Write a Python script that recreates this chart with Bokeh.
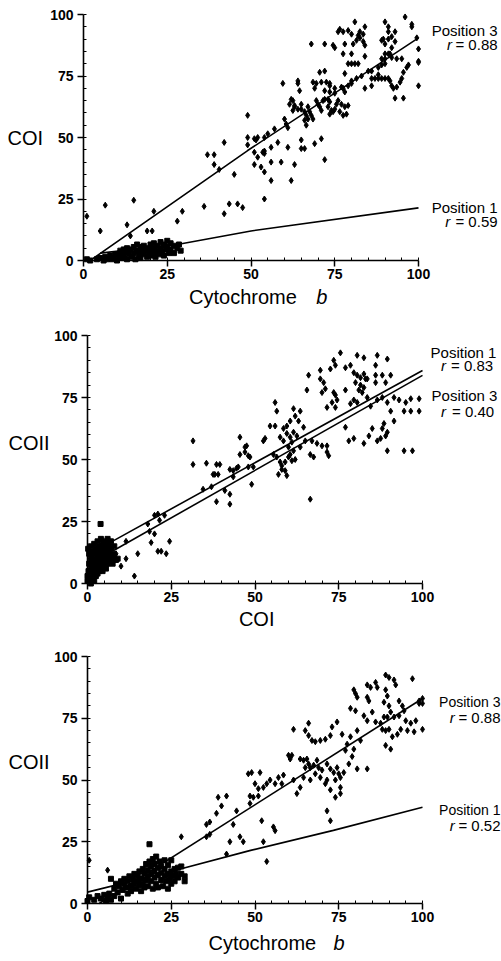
from bokeh.plotting import figure
from bokeh.layouts import column
from bokeh.models import Label, Range1d, FixedTicker, LinearAxis
from bokeh.embed import file_html
from bokeh.resources import INLINE

# ---------------- data ----------------
tick_values = [0, 25, 50, 75, 100]
minor_values = [v for v in range(0, 101, 5)]

# Panel A: Cytochrome b (x) vs COI (y)
a_pos3 = [(1,18),(6.5,22.5),(5,12),(13,14.5),(14,10),(15,24.5),(19,12),(20.5,12),(21,20),(28,16),(29.5,20),(36,22),(37,43),(39,43),(39,39),(40.5,37),(42,19),(42,48),(43.5,23),(45,35),(46,23),(47.5,21.5),(49,59),(49,50),(49,47),
(51,49.5),(52,50),(51.5,49),(53.5,44),(54,43.5),(51,44),(52,42),(54,50),(55,51.5),(57,53.5),(58,48),(56,46),(54,44.5),(59,40),(56,40),(51,39),(53,38),(54,36),(63,39),(72,41),(56,32.5),(62,32.5),(54,25),(61,46),(65,49),(65,45.5),(66,45.5),(69,47.5),(71,49.5),
(60,57.5),(60.5,55.5),(61,54),(62,65.5),(62.5,65),(61.5,63.5),(63,63),(65,63.5),(64,61.5),(63,62.5),(62.5,61),(65,61.5),(66,60.5),(67,62.5),(67.5,60.5),(66.5,59),(68,59),(68.5,57.5),(67,57.5),(66,57),(66.5,55),
(69.5,65),(70,63.5),(70.5,62.5),(71,61),(71.5,65),(72,65.5),(73,65.5),(73.5,64.5),(73,62.5),(74,61),(73.5,59.5),(74.5,60.5),(75,61.5),(75.5,63.5),(76,65),(77,63.5),(78,62.5),(79,63),(76.5,60.5),(77.5,59),(78.5,59.5),(73.5,68.5),(75,68),(72,69),
(59.5,72),(64,73),(64.5,69),(64,72),(68.5,72.5),(69,70),(69.5,72),(71,72.5),(70.5,76.5),(72,77),(72.5,72.5),(73.5,72),(73.5,71),(75,70),(77,70.5),(78,68.5),
(78,76),(80,72),(77.5,70),(79,71),(84,70),(86,71),(80,73),(85,77),(86,77),(83,75),(81.5,74),
(86,74),(87,74),(88,74),(88,75.5),(89,74),(90,74),(91,74),(91.5,73),(92,71),(92.5,70),(93.5,70.5),(95.5,76.5),(96.5,78.5),(97,79.5),(95,74),(94.5,72.5),(100,71),(93,66),(95.5,66),(88,78.5),(89,79.5),(90,80),
(68,88),(72,88),(74.5,87.5),(75,86.5),(78,88),(77.5,84),(80,84),(80,80),(79,80),(81,80),(82,80),(84,83),(84,87.5),(90,84),(91,84),(91.5,84),(89,82),(90,82),(92,82.5),(93.5,82),(95,82),(100,86),(100,81),(100,80.5),(99.5,90.5),
(96,99),(98,96),(98,95),(90,97),(81,97),(84,95),(91,95),(93,93),(82.5,93),(83.5,92),(82,91.5),(82.5,90.5),(79,93.5),(80,92),(77.5,93),(76.5,94),(76,93),(81.5,89.5),(83.5,89),(80.5,88),(91,93),(92,91),(93,89),(92,86.5),(90,88),(89,89.5),(89.5,90),(91,90)]
a_pos1 = [(1,0.5),(2,0),(4,0.5),(5,1),(6,0),(6.5,1.5),(7,0.5),(8,2),(8.5,0.5),(9,1),(9.5,2.5),(10,0),(10.5,1.5),(11,3),(11,4),(11.5,1),(12,2),(12,4.5),(12.5,3.5),(13,0.5),(13,5),(13.5,2.5),(14,4.5),(14.5,1.5),(15,3),(15,5.5),(15.5,0.5),(16,4),(16,6.5),(16.5,2),(17,5.5),(17,1),(17.5,3.5),(18,6),(18,2.5),(18.5,4.5),(19,1.5),(19.5,5),(19.5,3),(20,6.5),(20,2),(20.5,4),(21,7),(21,5),(21.5,1.5),(21.5,3),(22,6),(22,4),(22.5,2.5),(23,7.5),(23,5),(23.5,3.5),(24,6.5),(24,2),(24.5,4.5),(25,8),(25,5.5),(25.5,3),(26,7),(26,4.5),(27,6),(27,3),(28,5),(29,4),(28.5,6.5)]
a_fit3_x = [2, 49, 100]
a_fit3_y = [0, 44.7, 90.5]
a_fit1_x = [5, 28, 50, 100]
a_fit1_y = [3, 6.5, 12, 21.4]

# Panel B: COI (x) vs COII (y)
b_pos3 = [(31.5,57.5),(31.5,48),(35.5,48.5),(34.5,38),(37,39),(38.5,48),(38,44),(37.5,44),(39,44),(39.5,48),(38.5,33),(41,37.5),(42.5,36),(42.5,32),(43.5,43),(44.5,46.5),(45,47),(45.5,52),(47,53),(47.5,55.5),(45.5,59),(47,55),(43.5,45.5),(42.5,46),(48,51.5),(48,47),
(20,27.5),(21.5,25.5),(23,27.5),(21,28),(18.5,21),(18,24),(20,20),(19,16.5),(22,13),(23.5,12),(24.5,17),(15,12),(11.5,17),(11.5,10),(10,7),(14,3),(8.5,12),(21,13),
(75.5,93),(80.5,92),(82.5,91),(86.5,92),(89.5,90.5),(73.5,90),(74,88),(77,87),(78.5,88),(69.5,86),(72.5,86.5),(66,84),(69.5,82.5),(70.5,81),
(79.5,85),(80.5,84),(81.5,83),(82.5,84.5),(83.5,82.5),(80,81),(81.5,80),(82.5,79),(81,78),(82,77),(83,82.5),(86,88),(86,84),(86,81),(88,84),(89,81),(90.5,84),
(65.5,78),(70,77),(71,78.5),(73.5,77),(74,76),(77,78),(74.5,74),(73,73),(71.5,71),(74,71),(78.5,72.5),(79.5,74),(80.5,73),
(83.5,75),(84.5,71.5),(86.5,74),(88,75),(89.5,73),(91.5,75),(93,74),(95,73),(96.5,74.5),(99,74.5),(94.5,69.5),(96.5,69.5),(99,69.5),
(90.5,69.5),(91.5,65.5),(88.5,64.5),(88,62.5),(89,59.5),(87.5,58.5),(86.5,57.5),(89.5,61),(85,62.5),(84,59.5),(89.5,53.5),(94.5,53.5),(97,53.5),
(77,63),(79.5,58.5),(78,57.5),(82.5,56.5),
(61.5,70.5),(62,67.5),(63.5,69.5),(63,65.5),(60.5,65.5),(58.5,62.5),(59.5,63.5),(64.5,63),
(56,73),(56.5,69.5),(54.5,63.5),(56,63.5),(53,58.5),(52.5,57.5),(57.5,59),(58.5,57.5),
(59.5,60.5),(60.5,59),(61.5,61),(62.5,59.5),(61,57),(60,55),(61.5,53.5),(60.5,52),(60,51),(61,49.5),(62,50),(59,49),(58,47.5),
(55.5,52),(56.5,51),(57.5,49),(58,46),(57,44),(59,45.5),(59.5,43.5),
(63.5,55),(65,57.5),(67,57.5),(66.5,52),(67.5,51),(68.5,56.5),(70,55.5),(71.5,55.5),(72,51.5),(71.5,53),
(66.5,34),(49.5,47),(48.5,51),(49,40)]
b_pos1 = [(0,1),(0,3),(0.3,5),(0.5,8),(0.5,12),(0.2,14),(1,0),(1,2),(1,6),(1,9),(1,11),(1,15),(1.5,4),(1.5,7),(1.5,13),(2,1),(2,5),(2,8),(2,10),(2,12),(2,16),(2.5,3),(2.5,6),(2.5,9),(2.5,14),(3,4),(3,7),(3,11),(3,13),(3,17),(3.5,5),(3.5,9),(3.5,12),(3.5,15),(4,6),(4,8),(4,10),(4,14),(4,18),(3.9,24),(4.5,5),(4.5,11),(4.5,13),(4.5,16),(5,7),(5,9),(5,12),(5,15),(5,17),(5.5,6),(5.5,10),(5.5,14),(6,8),(6,11),(6,13),(6,16),(6,18),(6.5,9),(6.5,12),(6.5,15),(7,10),(7,14),(7,17),(7.5,8),(7.5,12),(8,11),(8,15),(8.5,9.5),(9,10)]
b_fit1_x = [7.8, 100]
b_fit1_y = [17.3, 85.9]
b_fit3_x = [7.8, 100]
b_fit3_y = [13.3, 83.9]

# Panel C: Cytochrome b (x) vs COII (y)
c_pos3 = [(28,27),(35.5,32),(36.5,33),(38.5,36.5),(40,39.5),(39,43),(36.5,28),(35.5,27),(41.5,43.5),(43.5,32),(42.5,25),(45.5,27),(46.5,25),(41.5,20),(44.5,37.5),(48,52.5),(48.5,43.5),(0.5,17.5),(6,13.5),
(89,92.5),(90,91.5),(91.5,90.5),(92,88.5),(97,91),(86,89.5),(86.5,87.5),(83.5,88.5),(84.5,87.5),(79.5,86.5),(80,85),(80.5,83.5),(83.5,83.5),(84,82),(89,86.5),(89.5,84),(88.5,81.5),(90,80),(93,82),(94,80),(90.5,77.5),(89.5,75.5),(91.5,75.5),(93,76),(94.5,78),(95,74),(96.5,73),(98,74),(99,82),(99,81),(100,83),(100,81),(100,70.5),
(78.5,79),(80,78),(82.5,76),(83.5,74),(85,77.5),(86,73.5),(87.5,73),(88.5,75.5),(88,70.5),(89,70),(90,70.5),(91,67.5),(92.5,68.5),(93.5,70.5),(95.5,70),(97.5,69.5),(89,64),(90.5,62.5),
(61.5,70.5),(65,70),(66,73),(73,71.5),(74.5,73.5),(72.5,68),(71,66.5),(69.5,66),(68,65.5),(66,68),(67,66),
(76,68.5),(78.5,67.5),(77.5,64.5),(77,62),(79.5,62.5),(81.5,66),(80.5,70),
(60,60),(60.5,58.5),(61,60),(63.5,58.5),(64.5,58),(65.5,58.5),(66,56.5),(66.5,55),(65,55),(67.5,56),(68.5,58),(69,55),(70,54),(69.5,51),(68,52.5),(71.5,56.5),(72.5,54.5),(73.5,53),(74.5,55),(75,52.5),(75.5,51),(74,50),(71.5,50),(71,48.5),(72.5,46),(75.5,47),(75.5,44.5),(74,43),(76.5,53),(78,56.5),(79,59.5),(80.5,54.5),(83.5,54.5),(66.5,50),(64.5,51),(61.5,50),(63.5,47),(62.5,44.5),
(58.5,52),(57,51),(54.5,50),(52.5,47),(51,46.5),(49.5,43),(48.5,40.5),(50,48.5),(53.5,48.5),(56,48.5),(58,48.5),(51.5,53),(49,53),(51,43.5),
(71.5,37.5),(72.5,33.5),(52,33.5),(55.5,31),(56,29.5),(52.5,25),(53.5,17)]
c_pos1 = [(0,1),(0.5,2.5),(2,1.5),(3,3),(4,2),(5,3.5),(5.5,1),(6,2.5),(6.5,4),(7,10),(7,1.5),(8,3),(8,6),(8.5,8),(9,4.5),(9.5,7),(10,2),(10,9),(10.5,5.5),(11,8),(11,10),(11.5,6.5),(12,4),(12,9),(12.5,11),(13,7),(13,5),(13.5,10),(14,8),(14,12),(14.5,6),(15,9),(15,11),(15.5,7.5),(15.5,13),(16,5),(16,10),(16.5,8),(16.5,14),(17,12),(17,6.5),(17.5,9.5),(17.5,16),(18,11),(18,7),(18,13.5),(18.5,24),(18.5,17),(19,9),(19,12),(19,15),(19.5,6),(19.5,18),(20,10.5),(20,13),(20,16),(20.5,8),(20.5,19),(21,11.5),(21,14.5),(21,6.5),(21.5,17),(22,9.5),(22,12.5),(22,15),(22.5,7),(23,11),(23,14),(23,17.5),(23.5,9),(24,12),(24,15.5),(24,6),(24.5,10),(25,13),(25,8),(25,17.5),(25.5,11),(26,14),(26,9),(26.5,12),(27,10.5),(27,14.5),(28,12),(28,15),(29,11),(29,9)]
c_fit3_x = [3.5, 100]
c_fit3_y = [0, 83]
c_fit1_x = [0, 26, 48.7, 73.4, 100]
c_fit1_y = [4.6, 13.4, 21.5, 29.6, 39]

FONT = "Liberation Sans"


def make_panel(pos3, pos1, fits, canvas, frame_px, texts):
    W, H = canvas
    left, right, top, bottom = frame_px  # pixel positions of x=0, x=100, y=100, y=0
    sx = (right - left) / 100.0
    sy = (bottom - top) / 100.0
    xr = Range1d(-left / sx, (W - left) / sx)
    yr = Range1d(-(H - bottom) / sy, (bottom) / sy)
    p = figure(width=W, height=H, output_backend="svg", toolbar_location=None,
               x_range=xr, y_range=yr, min_border=0,
               x_axis_location=None, y_axis_location=None)
    p.outline_line_color = None
    p.xgrid.visible = False
    p.ygrid.visible = False
    xa = LinearAxis(fixed_location=0, bounds=(0, 100))
    ya = LinearAxis(fixed_location=0, bounds=(0, 100))
    for ax in (xa, ya):
        ax.ticker = FixedTicker(ticks=tick_values, minor_ticks=minor_values)
        ax.axis_line_width = 1.6
        ax.axis_line_color = "black"
        ax.major_tick_in = 0
        ax.major_tick_out = 6
        ax.major_tick_line_width = 1.5
        ax.minor_tick_in = 3
        ax.minor_tick_out = 0
        ax.minor_tick_line_width = 1
        ax.major_label_text_font = FONT
        ax.major_label_text_font_style = "bold"
        ax.major_label_text_font_size = "14px"
        ax.major_label_text_color = "black"
    xa.major_label_standoff = 2
    ya.major_label_standoff = 4
    p.add_layout(xa, "below")
    p.add_layout(ya, "left")

    for fx, fy in fits:
        p.line(fx, fy, line_color="black", line_width=1.6)
    x3 = [a for a, b in pos3]
    y3 = [b for a, b in pos3]
    x1 = [a for a, b in pos1]
    y1 = [b for a, b in pos1]
    p.scatter(x1, y1, marker="square", size=5, color="black")
    p.scatter(x3, y3, marker="diamond", size=6, color="black")

    for (txt, x, y, align, italic, size) in texts:
        p.add_layout(Label(x=x, y=y, text=txt, text_align=align, text_baseline="middle",
                           text_font=FONT, text_font_size=size,
                           text_font_style="italic" if italic else "normal",
                           text_color="black"))
    return p


pA = make_panel(a_pos3, a_pos1, [(a_fit3_x, a_fit3_y), (a_fit1_x, a_fit1_y)],
                (501, 318), (83, 418, 14, 260),
                [("Cytochrome", 31.5, -15, "left", False, "20px"),
                 ("b", 69.5, -15, "left", True, "20px"),
                 ("COI", -22.7, 50, "left", False, "20px"),
                 ("Position 3", 123.6, 93.5, "right", False, "15px"),
                 ("= 0.88", 123.6, 87.8, "right", False, "15px"),
                 ("r", 110.0, 87.8, "right", True, "15px"),
                 ("Position 1", 123.6, 21.5, "right", False, "15px"),
                 ("= 0.59", 123.6, 15.9, "right", False, "15px"),
                 ("r", 109.5, 15.9, "right", True, "15px")])

pB = make_panel(b_pos3, b_pos1, [(b_fit1_x, b_fit1_y), (b_fit3_x, b_fit3_y)],
                (501, 322), (87, 422, 17, 265),
                [("COI", 50.5, -14.5, "center", False, "20px"),
                 ("COII", -23.6, 56.5, "left", False, "20px"),
                 ("Position 1", 102.4, 93.1, "left", False, "15px"),
                 ("= 0.83", 121.1, 87.9, "right", False, "15px"),
                 ("r", 107.0, 87.9, "right", True, "15px"),
                 ("Position 3", 102.7, 75.8, "left", False, "15px"),
                 ("= 0.40", 121.4, 69.4, "right", False, "15px"),
                 ("r", 107.0, 69.4, "right", True, "15px")])

pC = make_panel(c_pos3, c_pos1, [(c_fit3_x, c_fit3_y), (c_fit1_x, c_fit1_y)],
                (501, 321), (87, 422, 16, 263),
                [("Cytochrome", 36.1, -15.8, "left", False, "20px"),
                 ("b", 73.4, -15.8, "left", True, "20px"),
                 ("COII", -23.6, 57.1, "left", False, "20px"),
                 ("Position 3", 123.3, 81.4, "right", False, "14px"),
                 ("= 0.88", 123.3, 75.3, "right", False, "15px"),
                 ("r", 109.6, 75.3, "right", True, "15px"),
                 ("Position 1", 123.3, 37.7, "right", False, "14px"),
                 ("= 0.52", 123.3, 31.6, "right", False, "15px"),
                 ("r", 109.6, 31.6, "right", True, "15px")])

layout = column(pA, pB, pC)
open("out.html", "w").write(file_html(layout, INLINE))
